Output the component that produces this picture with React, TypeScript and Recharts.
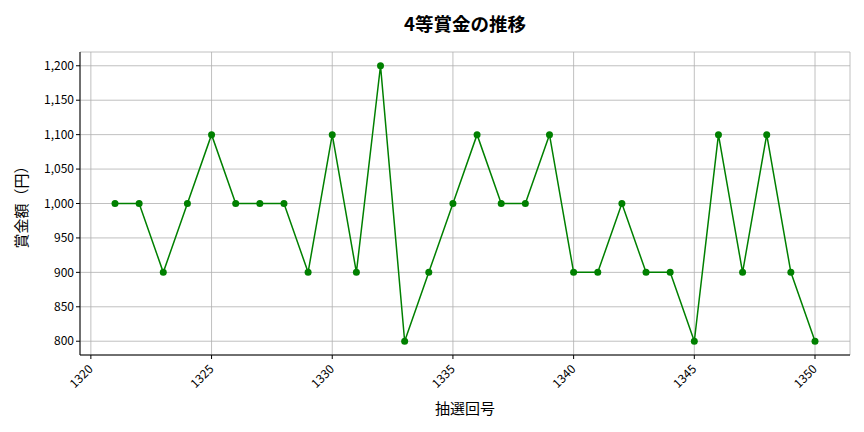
import { LineChart, Line, XAxis, YAxis, CartesianGrid } from 'recharts'

const drawNumbers = [
  1321, 1322, 1323, 1324, 1325, 1326, 1327, 1328, 1329, 1330,
  1331, 1332, 1333, 1334, 1335, 1336, 1337, 1338, 1339, 1340,
  1341, 1342, 1343, 1344, 1345, 1346, 1347, 1348, 1349, 1350,
]
const prizes = [
  1000, 1000, 900, 1000, 1100, 1000, 1000, 1000, 900, 1100,
  900, 1200, 800, 900, 1000, 1100, 1000, 1000, 1100, 900,
  900, 1000, 900, 900, 800, 1100, 900, 1100, 900, 800,
]
const xTicks = [1320, 1325, 1330, 1335, 1340, 1345, 1350]
const yTicks = [800, 850, 900, 950, 1000, 1050, 1100, 1150, 1200]

const data = drawNumbers.map((n, i) => ({ draw: n, prize: prizes[i] }))

const FONT = '"Noto Sans CJK JP", "Noto Sans", sans-serif'

function RotatedTick(props: any) {
  const { x, y, payload } = props
  return (
    <g transform={`translate(${x},${y + 6})`}>
      <text
        x={0}
        y={0}
        dy={4}
        textAnchor="end"
        transform="rotate(-45)"
        fontSize={12}
        fill="#000"
        fontFamily={FONT}
      >
        {payload.value}
      </text>
    </g>
  )
}

export default function App() {
  return (
    <div
      style={{
        position: 'fixed',
        left: 0,
        top: 0,
        width: 864,
        height: 432,
        background: '#fff',
        fontFamily: FONT,
      }}
    >
      <div
        style={{
          position: 'absolute',
          top: 10,
          left: 80,
          width: 770,
          textAlign: 'center',
          fontSize: 18.5,
          fontWeight: 'bold',
          color: '#000',
        }}
      >
        4等賞金の推移
      </div>
      <LineChart
        width={864}
        height={432}
        data={data}
        margin={{ top: 52, right: 14, left: 20, bottom: 27 }}
      >
        <CartesianGrid stroke="#b0b0b0" strokeWidth={0.8} />
        <XAxis
          dataKey="draw"
          type="number"
          domain={[1319.55, 1351.45]}
          ticks={xTicks}
          interval={0}
          allowDataOverflow
          tick={<RotatedTick />}
          tickSize={4}
          tickLine={{ stroke: '#000' }}
          axisLine={{ stroke: '#000' }}
          height={50}
          label={{
            value: '抽選回号',
            position: 'insideBottom',
            offset: -9,
            fill: '#000',
            fontSize: 15,
            fontFamily: FONT,
          }}
        />
        <XAxis
          xAxisId="top"
          orientation="top"
          dataKey="draw"
          type="number"
          domain={[1319.55, 1351.45]}
          tick={false}
          tickLine={false}
          axisLine={{ stroke: '#000' }}
          height={0}
        />
        <YAxis
          type="number"
          domain={[780, 1220]}
          ticks={yTicks}
          interval={0}
          allowDataOverflow
          tickFormatter={(v: number) => v.toLocaleString('en-US')}
          tick={{ fill: '#000', fontSize: 12, fontFamily: FONT }}
          tickSize={4}
          tickLine={{ stroke: '#000' }}
          axisLine={{ stroke: '#000' }}
          width={60}
          label={{
            value: '賞金額（円）',
            angle: -90,
            position: 'insideLeft',
            offset: 2,
            style: { textAnchor: 'middle' },
            fill: '#000',
            fontSize: 15,
            fontFamily: FONT,
          }}
        />
        <YAxis
          yAxisId="right"
          orientation="right"
          type="number"
          domain={[780, 1220]}
          tick={false}
          tickLine={false}
          axisLine={{ stroke: '#000' }}
          width={0}
        />
        <Line
          type="linear"
          dataKey="prize"
          stroke="#008000"
          strokeWidth={1.5}
          dot={{ r: 3.5, fill: '#008000', stroke: '#008000', strokeWidth: 0 }}
          activeDot={false}
          isAnimationActive={false}
        />
      </LineChart>
    </div>
  )
}
